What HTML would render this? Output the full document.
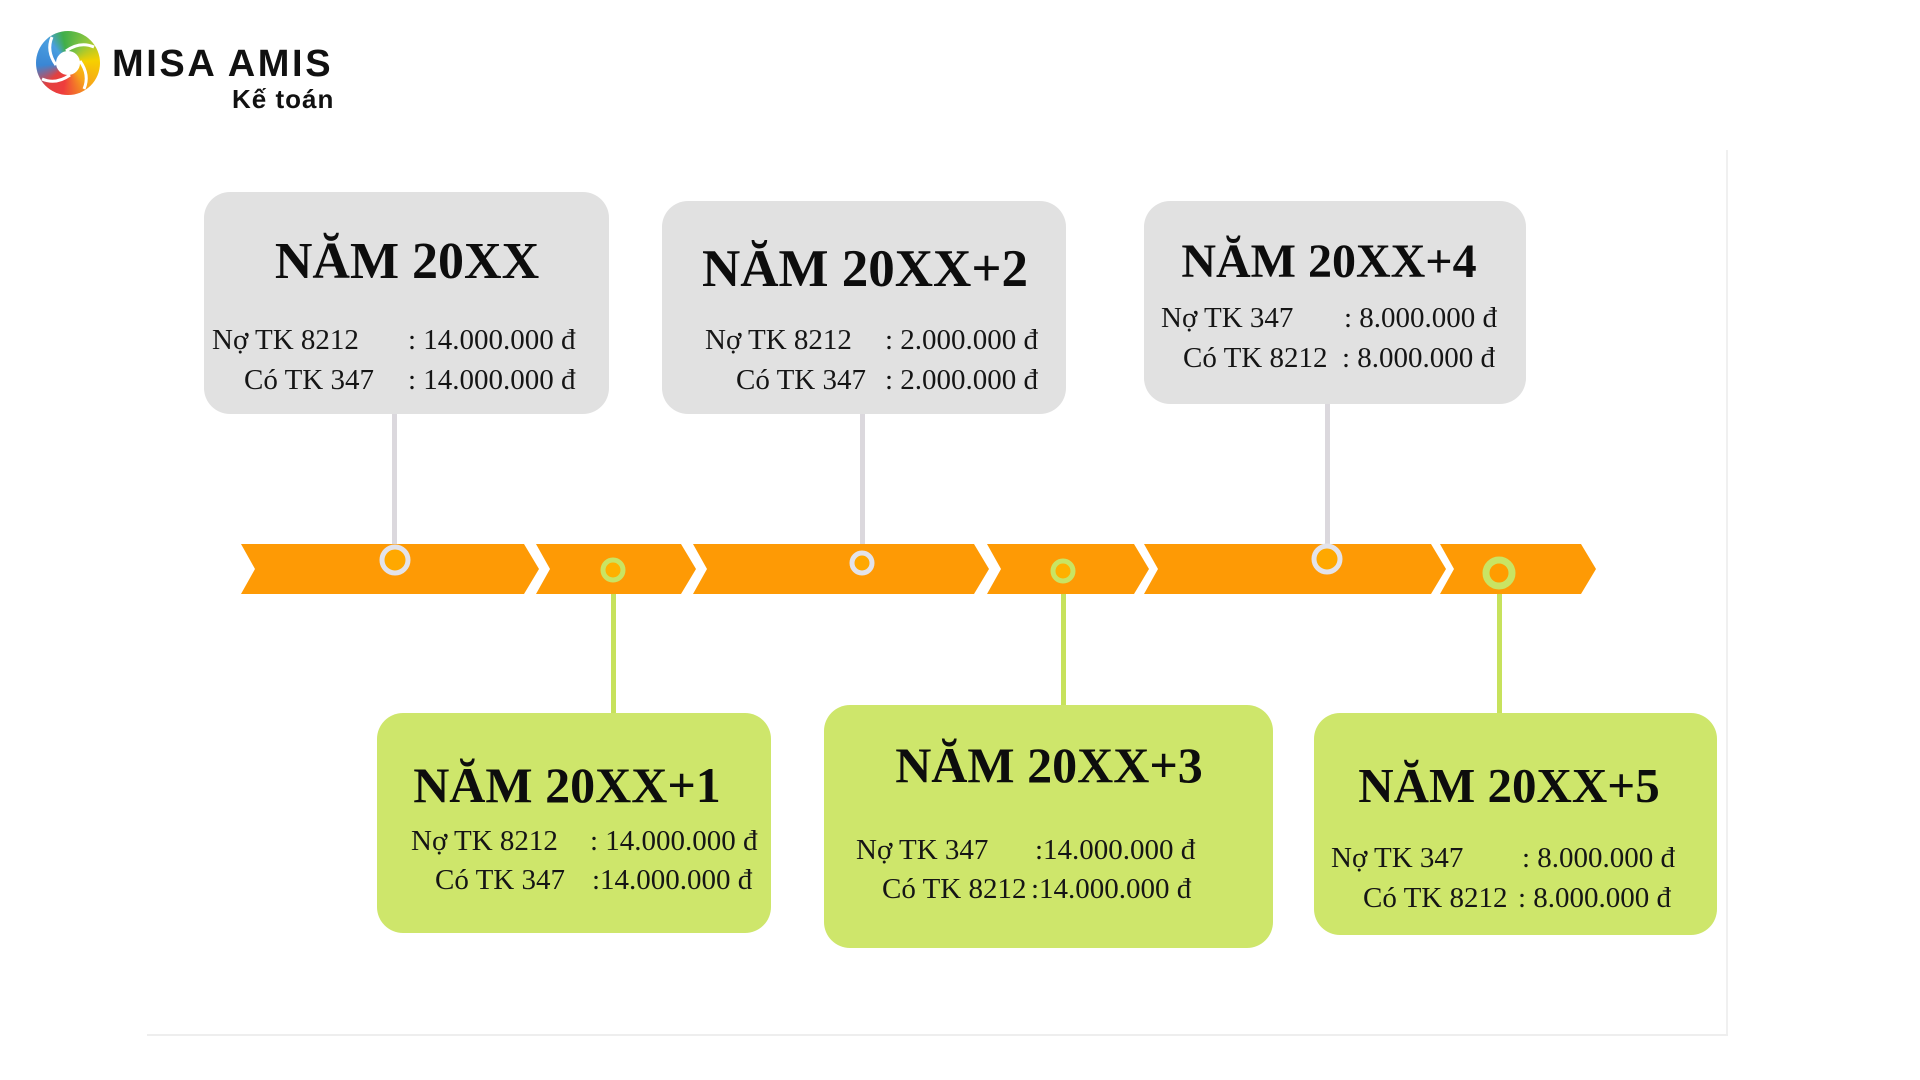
<!DOCTYPE html>
<html>
<head>
<meta charset="utf-8">
<style>
  html,body{margin:0;padding:0;}
  body{width:1920px;height:1080px;position:relative;background:#ffffff;overflow:hidden;font-family:"Liberation Serif",serif;}
  .abs{position:absolute;}
  .box{position:absolute;border-radius:26px;}
  .gray{background:#e1e1e1;}
  .green{background:#cee66b;}
  .title{position:absolute;width:800px;text-align:center;font-family:"Liberation Serif",serif;font-weight:bold;color:#0d0d0d;white-space:nowrap;}
  .t{position:absolute;font-family:"Liberation Serif",serif;font-size:29px;line-height:29px;height:29px;color:#151515;white-space:nowrap;}
  .logo-text{position:absolute;font-family:"Liberation Sans",sans-serif;color:#111;white-space:nowrap;}
</style>
</head>
<body>

<!-- faint frame lines -->
<div class="abs" style="left:1726px;top:150px;width:2px;height:886px;background:#f0f0f0;"></div>
<div class="abs" style="left:147px;top:1034px;width:1581px;height:2px;background:#eeeeee;"></div>

<!-- Logo -->
<div class="abs" style="left:36px;top:31px;width:64px;height:64px;border-radius:50%;background:conic-gradient(from -10deg,#3fae4a 0deg,#8cc63f 50deg,#f6d000 95deg,#f7a21b 150deg,#ee3d3d 200deg,#e2403f 235deg,#3a86d4 275deg,#4a9fe0 330deg,#3fae4a 360deg);"></div>
<svg class="abs" style="left:36px;top:31px;" width="64" height="64" viewBox="-32 -32 64 64">
  <circle cx="0" cy="0" r="12" fill="#fff"/>
  <path d="M -2,-12 Q 12,-22 26,-16" stroke="#fff" stroke-width="3" fill="none"/>
  <path d="M 12,-2 Q 22,12 16,26" stroke="#fff" stroke-width="3" fill="none"/>
  <path d="M 2,12 Q -12,22 -26,16" stroke="#fff" stroke-width="3" fill="none"/>
  <path d="M -12,2 Q -22,-12 -16,-26" stroke="#fff" stroke-width="3" fill="none"/>
</svg>
<div class="logo-text" style="left:112px;top:45px;font-size:38px;line-height:38px;font-weight:bold;letter-spacing:2.6px;">MISA AMIS</div>
<div class="logo-text" style="left:232px;top:86px;font-size:26px;line-height:26px;font-weight:bold;letter-spacing:1px;">Kế toán</div>

<!-- Connectors (gray, top) -->
<div class="abs" style="left:392px;top:412px;width:5px;height:134px;background:#dbd8dd;"></div>
<div class="abs" style="left:860px;top:412px;width:5px;height:142px;background:#dbd8dd;"></div>
<div class="abs" style="left:1325px;top:402px;width:5px;height:144px;background:#dbd8dd;"></div>

<!-- Connectors (green, bottom) -->
<div class="abs" style="left:611px;top:580px;width:5px;height:136px;background:#c7e25c;"></div>
<div class="abs" style="left:1061px;top:580px;width:5px;height:128px;background:#c7e25c;"></div>
<div class="abs" style="left:1497px;top:585px;width:5px;height:131px;background:#c7e25c;"></div>

<!-- Timeline -->
<svg class="abs" style="left:0;top:0;" width="1920" height="1080">
  <g fill="#fe9a05">
    <polygon points="241,544 524,544 539,569 524,594 241,594 255,569"/>
    <polygon points="536,544 681,544 696,569 681,594 536,594 550,569"/>
    <polygon points="693,544 974,544 989,569 974,594 693,594 707,569"/>
    <polygon points="987,544 1134,544 1149,569 1134,594 987,594 1001,569"/>
    <polygon points="1144,544 1431,544 1446,569 1431,594 1144,594 1158,569"/>
    <polygon points="1440,544 1581,544 1596,569 1581,594 1440,594 1454,569"/>
  </g>
  <!-- gray rings -->
  <circle cx="395" cy="560" r="13" fill="#ffa800" stroke="#e3e3ea" stroke-width="5"/>
  <circle cx="862" cy="563" r="10" fill="#ffa800" stroke="#e3e3ea" stroke-width="5"/>
  <circle cx="1327" cy="559" r="13" fill="#ffa800" stroke="#e3e3ea" stroke-width="5"/>
  <!-- green rings -->
  <circle cx="613" cy="570" r="10" fill="#ffb000" stroke="#c9e463" stroke-width="5"/>
  <circle cx="1063" cy="571" r="10" fill="#ffb000" stroke="#c9e463" stroke-width="5"/>
  <circle cx="1499" cy="573" r="13" fill="#ff9c00" stroke="#c9e463" stroke-width="7"/>
</svg>

<!-- Box 1 -->
<div class="box gray" style="left:204px;top:192px;width:405px;height:222px;"></div>
<div class="title" style="left:7px;top:236px;font-size:52px;line-height:52px;">NĂM 20XX</div>
<div class="t" style="left:212px;top:326px;">Nợ TK 8212</div>
<div class="t" style="left:408px;top:326px;">: 14.000.000 đ</div>
<div class="t" style="left:244px;top:366px;">Có TK 347</div>
<div class="t" style="left:408px;top:366px;">: 14.000.000 đ</div>

<!-- Box 2 -->
<div class="box gray" style="left:662px;top:201px;width:404px;height:213px;"></div>
<div class="title" style="left:465px;top:243px;font-size:53px;line-height:53px;">NĂM 20XX+2</div>
<div class="t" style="left:705px;top:326px;">Nợ TK 8212</div>
<div class="t" style="left:885px;top:326px;">: 2.000.000 đ</div>
<div class="t" style="left:736px;top:366px;">Có TK 347</div>
<div class="t" style="left:885px;top:366px;">: 2.000.000 đ</div>

<!-- Box 3 -->
<div class="box gray" style="left:1144px;top:201px;width:382px;height:203px;"></div>
<div class="title" style="left:929px;top:238px;font-size:48px;line-height:48px;">NĂM 20XX+4</div>
<div class="t" style="left:1161px;top:304px;">Nợ TK 347</div>
<div class="t" style="left:1344px;top:304px;">: 8.000.000 đ</div>
<div class="t" style="left:1183px;top:344px;">Có TK 8212</div>
<div class="t" style="left:1342px;top:344px;">: 8.000.000 đ</div>

<!-- Box 4 -->
<div class="box green" style="left:377px;top:713px;width:394px;height:220px;"></div>
<div class="title" style="left:167px;top:760px;font-size:50px;line-height:50px;">NĂM 20XX+1</div>
<div class="t" style="left:411px;top:827px;">Nợ TK 8212</div>
<div class="t" style="left:590px;top:827px;">: 14.000.000 đ</div>
<div class="t" style="left:435px;top:866px;">Có TK 347</div>
<div class="t" style="left:592px;top:866px;">:14.000.000 đ</div>

<!-- Box 5 -->
<div class="box green" style="left:824px;top:705px;width:449px;height:243px;"></div>
<div class="title" style="left:649px;top:740px;font-size:50px;line-height:50px;">NĂM 20XX+3</div>
<div class="t" style="left:856px;top:836px;">Nợ TK 347</div>
<div class="t" style="left:1035px;top:836px;">:14.000.000 đ</div>
<div class="t" style="left:882px;top:875px;">Có TK 8212</div>
<div class="t" style="left:1031px;top:875px;">:14.000.000 đ</div>

<!-- Box 6 -->
<div class="box green" style="left:1314px;top:713px;width:403px;height:222px;"></div>
<div class="title" style="left:1109px;top:761px;font-size:49px;line-height:49px;">NĂM 20XX+5</div>
<div class="t" style="left:1331px;top:844px;">Nợ TK 347</div>
<div class="t" style="left:1522px;top:844px;">: 8.000.000 đ</div>
<div class="t" style="left:1363px;top:884px;">Có TK 8212</div>
<div class="t" style="left:1518px;top:884px;">: 8.000.000 đ</div>

</body>
</html>
